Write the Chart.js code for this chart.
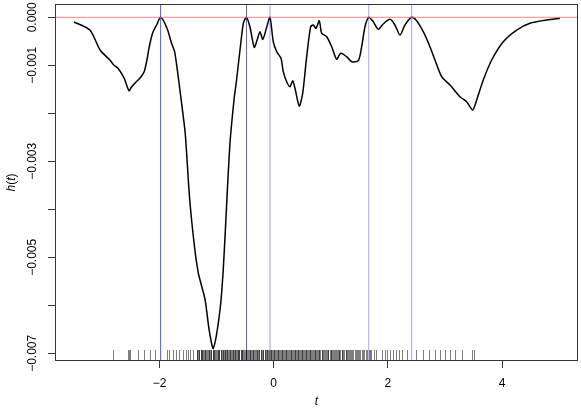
<!DOCTYPE html>
<html>
<head>
<meta charset="utf-8">
<script src="https://cdn.jsdelivr.net/npm/chart.js@4.4.1/dist/chart.umd.min.js"></script>
<style>
  html, body { margin: 0; padding: 0; background: #fff; }
  #wrap { width: 581px; height: 411px; }
</style>
</head>
<body>
<div id="wrap"><canvas id="myChart"></canvas></div>
<script>
// curve h(t), values (h in units of 0.001)
const tValues = [-3.50, -3.22, -3.04, -2.87, -2.80, -2.73, -2.62, -2.535, -2.49, -2.41, -2.34, -2.27, -2.22, -2.18, -2.12, -2.05, -1.98,
    -1.87, -1.79, -1.73, -1.62, -1.55, -1.47, -1.38, -1.32, -1.29, -1.20, -1.13, -1.058, -0.94, -0.88, -0.82, -0.765, -0.695, -0.65, -0.59, -0.53, -0.476,
    -0.415, -0.34, -0.29, -0.24, -0.19, -0.12, -0.065, -0.007, 0.053, 0.128, 0.168, 0.228, 0.285, 0.333, 0.373, 0.448, 0.508, 0.578, 0.648, 0.694, 0.741, 0.799,
    0.841, 0.928, 1.016, 1.103, 1.173, 1.278, 1.366, 1.482, 1.541, 1.599, 1.664, 1.744, 1.832, 1.919, 2.037, 2.124, 2.212, 2.299, 2.417,
    2.504, 2.620, 2.737, 2.825, 2.942, 3.088, 3.263, 3.380, 3.485, 3.555, 3.671, 3.818, 4.021, 4.256, 4.489, 4.781, 5.014];
const hValues = [-0.098, -0.265, -0.681, -0.890, -0.994, -1.056, -1.265, -1.529, -1.452, -1.348, -1.265, -1.140, -0.890, -0.619, -0.327, -0.160, 0,
    -0.223, -0.535, -0.744, -1.723, -2.410, -3.806, -4.848, -5.327, -5.473, -5.890, -6.515, -6.896, -6.098, -5.196, -3.806, -2.619, -1.723, -1.306, -0.681, -0.119, 0,
    -0.202, -0.625, -0.473, -0.300, -0.458, -0.196, 0, -0.508, -0.717, -0.854, -1.133, -1.342, -1.446, -1.321, -1.479, -1.848, -1.583, -0.821, -0.196, -0.160, -0.229, -0.071,
    -0.333, -0.404, -0.613, -0.875, -0.750, -0.821, -0.925, -0.904, -0.613, -0.196, 0, -0.092, -0.250, -0.140, -0.042, -0.160, -0.369, -0.160, 0,
    -0.071, -0.300, -0.613, -0.890, -1.238, -1.410, -1.654, -1.758, -1.931, -1.723, -1.306, -0.890, -0.508, -0.265, -0.125, -0.056, -0.021];

// vertical reference lines
const vLines = [-1.98, -0.476, -0.065, 1.664, 2.417];
const vAlpha = [0.8, 0.75, 0.45, 0.4, 0.45];

// rug (observations)
const rugValues = [-2.81, -2.55, -2.53, -2.52, -2.37, -2.27, -2.17, -2.08, -1.87, -1.83, -1.77, -1.71, -1.65, -1.58, -1.54, -1.50, -1.46, -1.42,
    -1.35, -1.33, -1.31, -1.28, -1.26, -1.25, -1.22, -1.2, -1.18, -1.15, -1.14, -1.12, -1.1, -1.07, -1.05, -1.04, -1.02, -0.99, -0.97, -0.95, -0.93, -0.9,
    -0.88, -0.87, -0.85, -0.82, -0.8, -0.78, -0.76, -0.74, -0.71, -0.69, -0.67, -0.66, -0.63, -0.61, -0.6, -0.57, -0.55, -0.53, -0.5, -0.48, -0.46, -0.44,
    -0.42, -0.39, -0.37, -0.36, -0.33, -0.31, -0.29, -0.27, -0.25, -0.23, -0.2, -0.18, -0.16, -0.14, -0.12, -0.1, -0.08, -0.05, -0.03, -0.02, 0.01, 0.03,
    0.05, 0.08, 0.1, 0.12, 0.14, 0.16, 0.19, 0.21, 0.23, 0.25, 0.28, 0.3, 0.32, 0.34, 0.37, 0.39, 0.41, 0.43, 0.46, 0.48, 0.5, 0.52, 0.55, 0.57, 0.6, 0.62,
    0.64, 0.67, 0.69, 0.72, 0.74, 0.77, 0.79, 0.82, 0.85, 0.87, 0.9, 0.93, 0.95, 0.98, 1.01, 1.03, 1.06, 1.09, 1.12, 1.15, 1.17, 1.2, 1.23, 1.26, 1.29,
    1.32, 1.36, 1.39, 1.42, 1.46, 1.5, 1.54, 1.58, 1.62, 1.67, 1.71, 1.75,
    -1.34, -1.3, -1.27, -1.23, -1.21, -1.17, -1.13, -1.09, -1.06, -1.01, -0.98, -0.96, -0.92, -0.89, -0.86, -0.83, -0.81, -0.77, -0.73, -0.72, -0.68,
    -0.65, -0.62, -0.58, -0.56, -0.52, -0.49, -0.45, -0.41, -0.38, -0.34, -0.3, -0.26, -0.22, -0.19, -0.15, -0.11, -0.07, -0.04, 0.0, 0.04, 0.07,
    0.11, 0.15, 0.18, 0.22, 0.27, 0.31, 0.35, 0.38, 0.42, 0.45, 0.49, 0.53, 0.56, 0.59, 0.63, 0.66, 0.7, 0.73, 0.76, 0.8, 0.84, 0.88, 0.91, 0.96,
    1.0, 1.04, 1.07, 1.11, 1.14, 1.19, 1.22, 1.27, 1.31, 1.34, 1.38, 1.44, 1.48, 1.52, 1.57, 1.64, 1.69,
    1.80, 1.89, 1.95, 1.99, 2.04, 2.09, 2.15, 2.20, 2.24, 2.33, 2.49, 2.62, 2.72, 2.82, 2.91, 3.00, 3.09, 3.17, 3.29, 3.47, 3.50];

const xTicks = [-2, 0, 2, 4];
const yTicks = [0, -0.001, -0.002, -0.003, -0.004, -0.005, -0.006, -0.007];
const yLabelValues = [0, -0.001, -0.003, -0.005, -0.007];
const yLabelText = ["0.000", "\u22120.001", "\u22120.003", "\u22120.005", "\u22120.007"];

const X_MIN = -3.83, X_MAX = 5.33;
const Y_MIN = -0.00716, Y_MAX = 0.000277;
const FONT = "'Liberation Sans', Arial, Helvetica, sans-serif";

const curve = tValues.map((t, i) => ({ x: t, y: hValues[i] / 1000 }));

const datasets = [];
datasets.push({
    data: [{ x: X_MIN, y: 0 }, { x: X_MAX, y: 0 }],
    borderColor: "rgba(240,110,110,0.85)", borderWidth: 1, pointRadius: 0
});
vLines.forEach((v, i) => {
    datasets.push({
        data: [{ x: v, y: Y_MIN }, { x: v, y: Y_MAX }],
        borderColor: "rgba(40,40,255," + vAlpha[i] + ")", borderWidth: 1, pointRadius: 0
    });
});
datasets.push({
    data: curve, borderColor: "#000", borderWidth: 1.5, pointRadius: 0, tension: 0.25
});

// rug, box and y-axis labels drawn on top using the chart scales
const extras = {
    id: "extras",
    afterDatasetsDraw(chart) {
        const ctx = chart.ctx, a = chart.chartArea;
        const xs = chart.scales.x, ys = chart.scales.y;
        ctx.save();
        ctx.strokeStyle = "rgba(0,0,0,0.5)";
        ctx.lineWidth = 1;
        rugValues.forEach(v => {
            const px = Math.round(xs.getPixelForValue(v)) + 0.5;
            ctx.beginPath();
            ctx.moveTo(px, a.bottom);
            ctx.lineTo(px, a.bottom - 11);
            ctx.stroke();
        });
        ctx.strokeStyle = "#333";
        ctx.strokeRect(a.left + 0.5, a.top + 0.5, a.right - a.left - 1, a.bottom - a.top - 1);
        ctx.fillStyle = "#000";
        ctx.font = "12px " + FONT;
        ctx.textAlign = "center";
        ctx.textBaseline = "middle";
        yLabelValues.forEach((v, i) => {
            ctx.save();
            ctx.translate(33, ys.getPixelForValue(v));
            ctx.rotate(-Math.PI / 2);
            ctx.fillText(yLabelText[i], 0, 0);
            ctx.restore();
        });
        // y title h(t)
        ctx.save();
        ctx.translate(12, (a.top + a.bottom) / 2);
        ctx.rotate(-Math.PI / 2);
        const parts = [["h", "italic 12px " + FONT], ["(", "12px " + FONT], ["t", "italic 12px " + FONT], [")", "12px " + FONT]];
        let w = 0;
        parts.forEach(p => { ctx.font = p[1]; w += ctx.measureText(p[0]).width; });
        let x0 = -w / 2;
        ctx.textAlign = "left";
        parts.forEach(p => { ctx.font = p[1]; ctx.fillText(p[0], x0, 0); x0 += ctx.measureText(p[0]).width; });
        ctx.restore();
        ctx.restore();
    }
};

new Chart(document.getElementById("myChart"), {
    type: "line",
    data: { datasets: datasets },
    options: {
        responsive: true,
        maintainAspectRatio: false,
        animation: false,
        events: [],
        layout: { padding: { top: 4, right: 3, left: 0, bottom: 0 } },
        plugins: { legend: { display: false }, tooltip: { enabled: false } },
        scales: {
            x: {
                type: "linear", min: X_MIN, max: X_MAX,
                afterBuildTicks: s => { s.ticks = xTicks.map(v => ({ value: v })); },
                afterFit: s => { s.height = 50; },
                grid: { drawOnChartArea: false, drawTicks: true, tickLength: 7, color: "#333" },
                border: { display: false },
                ticks: {
                    color: "#000", padding: 8, maxRotation: 0,
                    font: { family: FONT, size: 12 },
                    callback: v => (v < 0 ? "\u2212" + Math.abs(v) : String(v))
                },
                title: { display: true, text: "t", color: "#000", padding: { top: 0, bottom: 2 }, font: { family: FONT, size: 12, style: "italic" } }
            },
            y: {
                type: "linear", min: Y_MIN, max: Y_MAX,
                afterBuildTicks: s => { s.ticks = yTicks.map(v => ({ value: v })); },
                afterFit: s => { s.width = 55; s.paddingTop = 0; s.paddingBottom = 0; },
                grid: { drawOnChartArea: false, drawTicks: true, tickLength: 7, color: "#333" },
                border: { display: false },
                ticks: { display: true, padding: 0, font: { size: 1 }, color: "rgba(0,0,0,0)", callback: () => "" }
            }
        }
    },
    plugins: [extras]
});
</script>
</body>
</html>
